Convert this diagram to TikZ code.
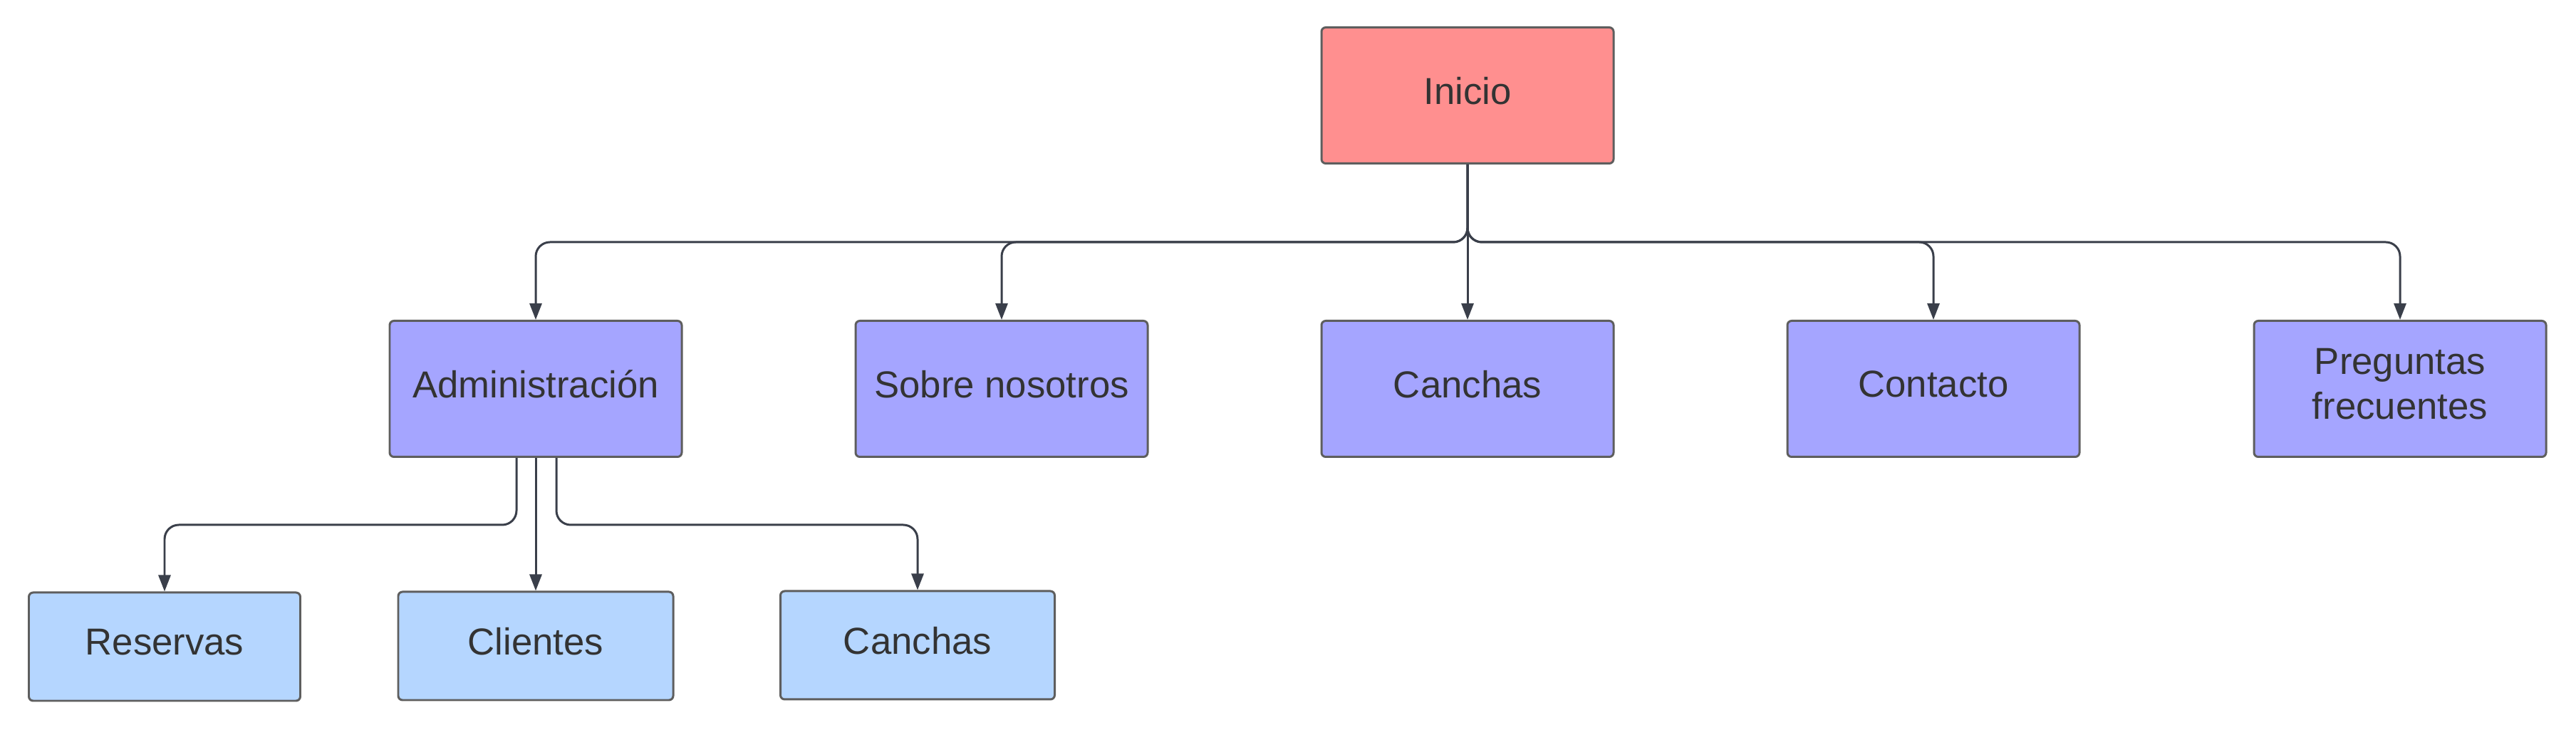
\documentclass[tikz,border=0pt]{standalone}
\usepackage{fontspec}
\setmainfont{Liberation Sans}
\usetikzlibrary{arrows.meta,positioning}

\definecolor{rojo}{HTML}{FF8F8F}
\definecolor{lila}{HTML}{A5A5FF}
\definecolor{celeste}{HTML}{B5D6FF}
\definecolor{borde}{HTML}{5E5E5E}
\definecolor{linea}{HTML}{3A3F4A}
\definecolor{texto}{HTML}{333333}

\tikzset{
  caja/.style = {draw = borde, line width = 0.85pt, shape = rectangle, rounded corners = 0.6mm,
    minimum width = 4.1cm, minimum height = 1.91cm, align = center, text depth = 4pt,
    font = \fontsize{15}{18}\selectfont, text = texto},
  raiz/.style = {caja, fill = rojo},
  seccion/.style = {caja, fill = lila},
  sub/.style = {caja, fill = celeste, minimum width = 3.85cm, minimum height = 1.52cm},
  enlace/.style = {draw = linea, line width = 0.85pt, rounded corners = 2mm,
    -{Triangle[length = 2.3mm, width = 1.7mm]}}
}

\begin{document}
\begin{tikzpicture}
\useasboundingbox (0,0) rectangle (36.16,10.25);

\node[raiz] (ini) at (20.60,8.91) {Inicio};

\node[seccion] (adm) at (7.52,4.79)  {Administración};
\node[seccion] (sob) at (14.06,4.79) {Sobre nosotros};
\node[seccion] (can) at (20.60,4.79) {Canchas};
\node[seccion] (con) at (27.14,4.79) {Contacto};
\node[seccion] (pre) at (33.69,4.79) {Preguntas\\frecuentes};

\node[sub, minimum width = 3.81cm] (res) at (2.31,1.17) {Reservas};
\node[sub, minimum width = 3.86cm] (cli) at (7.52,1.18) {Clientes};
\node[sub] (cha) at (12.88,1.19) {Canchas};

\coordinate (bus) at (20.60,6.85);

% Inicio hacia las secciones
\draw[enlace] (ini.south) -- (ini.south |- bus) -| (adm.north);
\draw[enlace] (ini.south) -- (ini.south |- bus) -| (sob.north);
\draw[enlace] (ini.south) -- (can.north);
\draw[enlace] (ini.south) -- (ini.south |- bus) -| (con.north);
\draw[enlace] (ini.south) -- (ini.south |- bus) -| (pre.north);

% Administracion
\draw[enlace] ([xshift = -0.27cm]adm.south) -- ++(0,-0.94) -| (res.north);
\draw[enlace] (adm.south) -- (cli.north);
\draw[enlace] ([xshift = 0.29cm]adm.south) -- ++(0,-0.94) -| (cha.north);
\end{tikzpicture}
\end{document}
